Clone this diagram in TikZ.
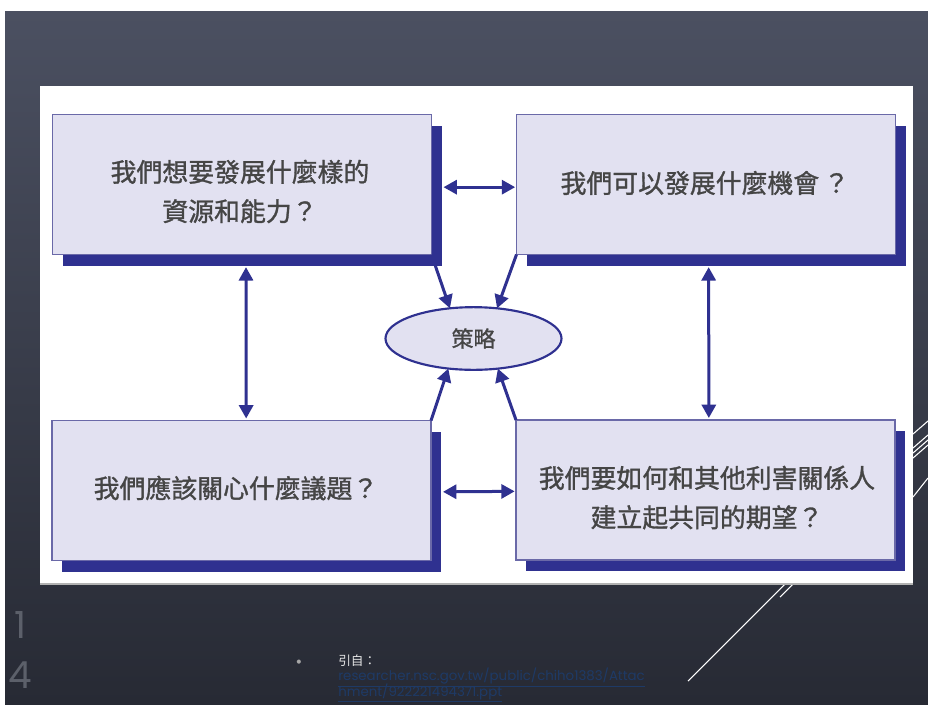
\documentclass[tikz,border=0pt]{standalone}
\usepackage{fontspec}
\usetikzlibrary{arrows.meta,shapes.geometric,shadows}
\newfontfamily\cjk{Noto Sans CJK TC}
\newfontfamily\cjkb{Noto Sans CJK TC}[FakeBold=1.2]
\newfontfamily\geo{Poppins}
\newfontfamily\dvs{DejaVu Sans}
\definecolor{navy}{HTML}{2F3190}
\definecolor{boxfill}{HTML}{E2E1F1}
\definecolor{boxline}{HTML}{6A69A8}
\definecolor{txtgray}{HTML}{454545}
\definecolor{bgtop}{HTML}{4B5061}
\definecolor{bgbot}{HTML}{272A34}
\definecolor{linkblue}{HTML}{1E3A66}
\definecolor{numgray}{HTML}{5C606A}
\tikzset{
  qbox/.style={rectangle, draw=boxline, line width=1.2pt, fill=boxfill,
    minimum width=284.25pt, minimum height=105pt, inner sep=0pt, outer sep=0pt,
    general shadow={fill=navy, shadow xshift=7.5pt, shadow yshift=-8.5pt}},
  qtext/.style={font=\cjkb\fontsize{19.4}{29.5}\selectfont, text=txtgray, align=center, inner sep=0pt},
  stratnode/.style={ellipse, draw=navy, line width=1.6pt, fill=boxfill,
    minimum width=132pt, minimum height=47pt, inner sep=0pt, outer sep=0pt,
    font=\cjkb\fontsize{16.5}{20}\selectfont, text=txtgray},
  dbl/.style={navy, line width=2.25pt, {Triangle[length=10pt,width=10.5pt]}-{Triangle[length=10pt,width=10.5pt]}},
  sgl/.style={navy, line width=2.25pt, -{Triangle[length=10pt,width=10.5pt]}},
  wline/.style={white, line width=0.8pt}
}
\begin{document}
\begin{tikzpicture}[x=0.75pt,y=-0.75pt]
\useasboundingbox (0,0) rectangle (928,704);
\fill[white] (0,0) rectangle (928,704);
\shade[top color=bgtop, bottom color=bgbot] (5,11) rectangle (928,704);
% decorative white lines
\draw[wline] (688,681) -- (786,583);
\draw[wline] (780,597) -- (794,583);
\draw[wline] (913,434) -- (928,421);
\draw[wline] (913,448) -- (928,435);
\draw[wline] (913,453) -- (928,440);
\draw[wline] (913,458) -- (928,445);
\draw[wline] (913,497) -- (928,478);
% white image panel
\fill[gray!60] (40,86) rectangle (913,584.5);
\fill[white] (40,86) rectangle (913,583);
% boxes
\node[qbox] (tl) at (242,184.5) {};
\node[qbox] (tr) at (706,184.5) {};
\node[qbox] (bl) at (241.5,490.5) {};
\node[qbox] (br) at (705.5,490) {};
\node[qtext] (tlt) at (240,191.5) {我們想要發展什麼樣的\\資源和能力？};
\node[qtext] (trt) at (705,183) {我們可以發展什麼機會\,？};
\node[qtext] (blt) at (236,488) {我們應該關心什麼議題？};
\node[qtext] (brt) at (707,497.5) {我們要如何和其他利害關係人\\建立起共同的期望？};
\node[stratnode] (st) at (473.5,338.5) {策略};
% connectors
\draw[dbl] ([xshift=9pt,yshift=-2pt]tl.east) -- ([xshift=-1pt,yshift=-2pt]tr.west);
\draw[dbl] ([xshift=9pt,yshift=-1pt]bl.east) -- ([xshift=-1pt,yshift=-1pt]br.west);
\draw[dbl] ([xshift=3pt,yshift=-9.5pt]tl.south) -- ([xshift=3.5pt,yshift=1.5pt]bl.north);
\draw[dbl] ([xshift=2pt,yshift=-9.5pt]tr.south) -- ([xshift=2.5pt,yshift=1.5pt]br.north);
\draw[sgl] (tl.south east) -- (st.128);
\draw[sgl] (tr.south west) -- (st.52);
\draw[sgl] (bl.north east) -- (st.230);
\draw[sgl] (br.north west) -- (st.309);
% footer texts
\node[font=\geo\fontsize{28}{30}\selectfont, text=numgray] (n1) at (20,625) {1};
\node[font=\geo\fontsize{28}{30}\selectfont, text=numgray] (n4) at (20,675) {4};
\node[font=\dvs\fontsize{4}{5}\selectfont, text=gray!70] (bul) at (299,662) {●};
\node[font=\cjk\fontsize{9.5}{11}\selectfont, text=white!80!gray, anchor=west, inner sep=0pt] (ref) at (338,661) {引自：};
\node[font=\geo\fontsize{10}{10}\selectfont, text=linkblue, anchor=north west, inner sep=0pt, align=left] (lnk) at (338,668)
  {\underline{researcher.nsc.gov.tw/public/chiho1383/Attac}\\[-3.5pt]\underline{hment/922221494371.ppt}};
\end{tikzpicture}
\end{document}
